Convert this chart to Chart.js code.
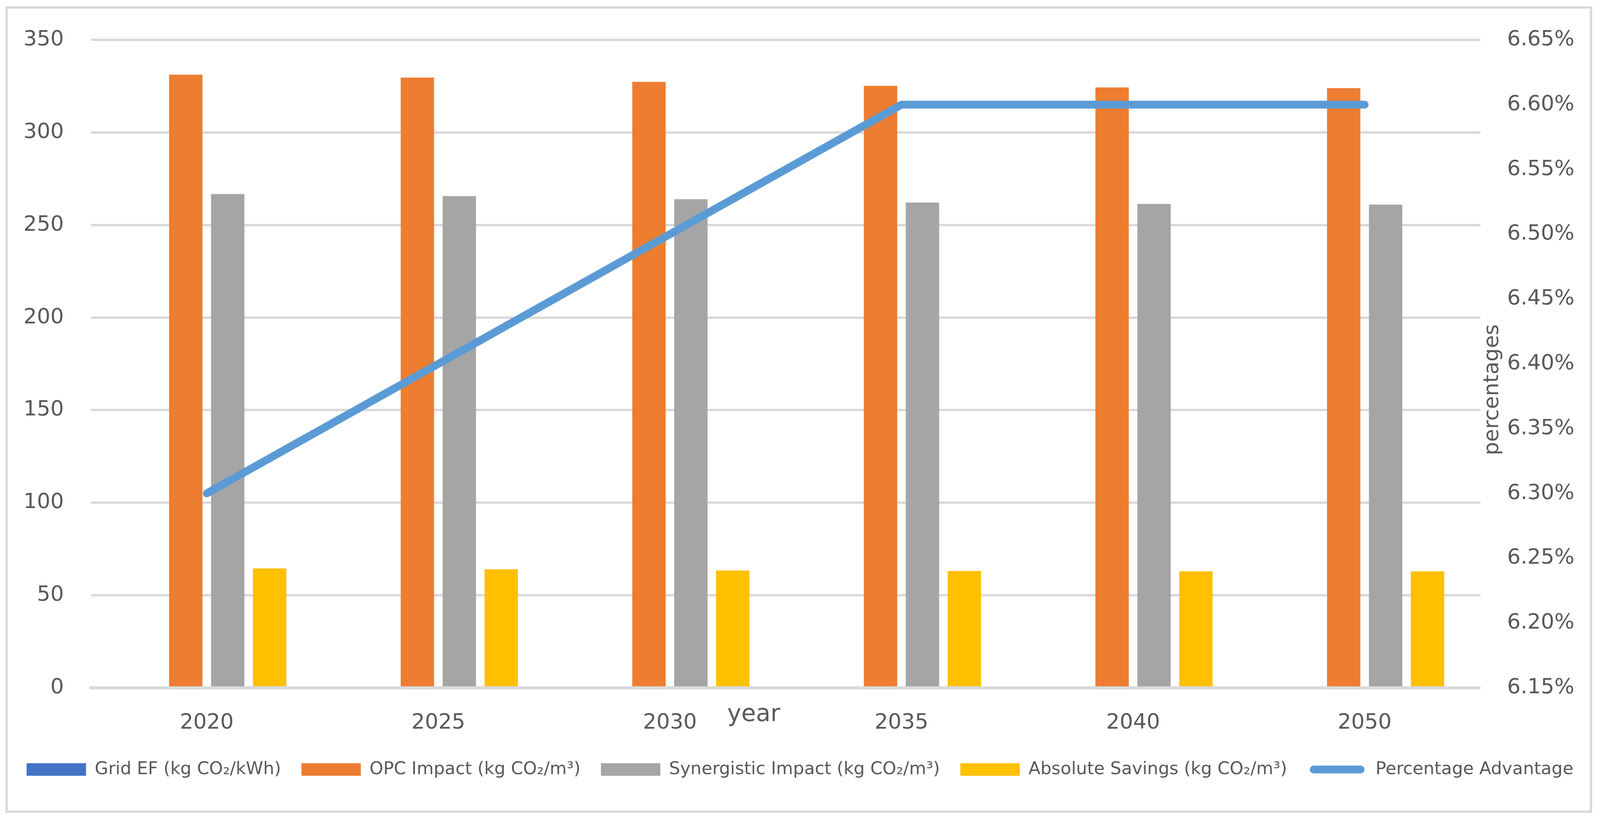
<!DOCTYPE html>
<html>
<head>
<meta charset="utf-8">
<script src="https://cdn.jsdelivr.net/npm/chart.js@4.4.1/dist/chart.umd.min.js"></script>
<style>
    html, body { margin: 0; padding: 0; background: #ffffff; overflow: hidden; }
    #wrap { position: relative; }
    #chart { display: block; }
    #frame { position: absolute; border: 6px solid #d9d9d9; pointer-events: none; }
</style>
</head>
<body>
<div id="wrap">
    <canvas id="chart"></canvas>
    <div id="frame"></div>
</div>
<script>
// Values
const years = ['2020', '2025', '2030', '2035', '2040', '2050'];
const gridEF = [0.58, 0.52, 0.45, 0.38, 0.32, 0.25];
const opcImpact = [331.2, 329.6, 327.3, 325.2, 324.3, 323.9];
const synergisticImpact = [266.7, 265.6, 263.9, 262.1, 261.4, 261.0];
const absoluteSavings = [64.5, 64.0, 63.4, 63.1, 62.9, 62.9];
const percentageAdvantage = [6.30, 6.40, 6.50, 6.60, 6.60, 6.60];

const textColor = '#595959';
const gridColor = '#d9d9d9';
const fontFamily = '"DejaVu Sans", sans-serif';

// The layout was measured on a 4309x2111 picture; scale it to the real window
const W = window.innerWidth;
const H = window.innerHeight;
const sx = W / 4309;
const sy = H / 2111;
const X = v => v * sx;
const Y = v => v * sy;

const canvas = document.getElementById('chart');
canvas.width = W;
canvas.height = H;
const wrap = document.getElementById('wrap');
wrap.style.width = W + 'px';
wrap.style.height = H + 'px';
const frame = document.getElementById('frame');
frame.style.left = X(15) + 'px';
frame.style.top = Y(16) + 'px';
frame.style.width = X(4260) + 'px';
frame.style.height = Y(2052) + 'px';

const tickFont = 57 * sx;
const legendFont = 47 * sx;
const legendPad = X(55);
const legendBoxH = Y(32);
const legendItemH = Math.max(legendFont, legendBoxH);
const legendH = legendItemH + legendPad + 10;
const legendTop = Y(1969) - legendPad - legendItemH / 2;
const plotBottom = Y(1760);

// Axis titles sit inside the plot edges in the original, so draw them by hand
const axisTitles = {
    id: 'axisTitles',
    afterDraw(chart) {
        const { ctx, chartArea } = chart;
        ctx.save();
        ctx.fillStyle = textColor;
        ctx.textAlign = 'center';
        ctx.textBaseline = 'alphabetic';
        ctx.font = (64 * sx) + 'px ' + fontFamily;
        ctx.fillText('year', chartArea.left + chartArea.width * 0.477, chartArea.bottom + Y(85));
        ctx.translate(chartArea.right + X(47), chartArea.top + chartArea.height * 0.54);
        ctx.rotate(-Math.PI / 2);
        ctx.font = (54 * sy) + 'px ' + fontFamily;
        ctx.fillText('percentages', 0, 0);
        ctx.restore();
    }
};

function barSet(label, data, color) {
    return {
        type: 'bar',
        label: label,
        data: data,
        backgroundColor: color,
        borderWidth: 0,
        yAxisID: 'y',
        order: 1,
        barPercentage: 0.796,
        categoryPercentage: 0.724
    };
}

const chart = new Chart(canvas.getContext('2d'), {
    data: {
        labels: years,
        datasets: [
            barSet('Grid EF (kg CO\u2082/kWh)', gridEF, '#4472c4'),
            barSet('OPC Impact (kg CO\u2082/m\u00b3)', opcImpact, '#ed7d31'),
            barSet('Synergistic Impact (kg CO\u2082/m\u00b3)', synergisticImpact, '#a5a5a5'),
            barSet('Absolute Savings (kg CO\u2082/m\u00b3)', absoluteSavings, '#ffc000'),
            {
                type: 'line',
                label: 'Percentage Advantage',
                data: percentageAdvantage,
                borderColor: '#5b9bd5',
                backgroundColor: '#5b9bd5',
                borderWidth: Y(20),
                borderCapStyle: 'round',
                borderJoinStyle: 'round',
                pointRadius: 0,
                pointHoverRadius: 0,
                tension: 0,
                fill: false,
                yAxisID: 'yPct',
                order: 0
            }
        ]
    },
    options: {
        responsive: false,
        devicePixelRatio: 1,
        animation: false,
        layout: { padding: { top: Y(91), bottom: H - legendTop - legendH, left: 0, right: 0 } },
        plugins: {
            tooltip: { enabled: false },
            legend: {
                position: 'bottom',
                labels: {
                    color: textColor,
                    font: { family: fontFamily, size: legendFont },
                    boxWidth: X(160),
                    boxHeight: legendBoxH,
                    padding: legendPad,
                    useBorderRadius: true,
                    sort: (a, b) => a.datasetIndex - b.datasetIndex,
                    generateLabels(chart) {
                        const items = Chart.defaults.plugins.legend.labels.generateLabels(chart);
                        items.forEach(item => {
                            const ds = chart.data.datasets[item.datasetIndex];
                            if (ds.type === 'line') {
                                // thick rounded line key
                                item.fillStyle = ds.borderColor;
                                item.strokeStyle = '#ffffff';
                                item.lineWidth = Y(12);
                                item.borderRadius = Y(16);
                                item.lineDash = [];
                            } else {
                                item.lineWidth = 0;
                                item.borderRadius = 0;
                            }
                        });
                        return items;
                    }
                }
            }
        },
        scales: {
            x: {
                grid: { display: false, drawTicks: false },
                border: { display: true, color: gridColor, width: Y(8), z: 1 },
                ticks: {
                    color: textColor,
                    font: { family: fontFamily, size: tickFont },
                    padding: Y(1850) - plotBottom - 0.6 * tickFont,
                    maxRotation: 0
                },
                afterFit(scale) { scale.height = legendTop - plotBottom; }
            },
            y: {
                position: 'left',
                min: 0,
                max: 350,
                ticks: { stepSize: 50, color: textColor, font: { family: fontFamily, size: tickFont }, padding: X(73) },
                grid: { color: gridColor, lineWidth: Y(6), drawTicks: false },
                border: { display: false },
                afterFit(scale) { scale.width = X(245); }
            },
            yPct: {
                position: 'right',
                min: 6.15,
                max: 6.65,
                ticks: {
                    stepSize: 0.05,
                    color: textColor,
                    font: { family: fontFamily, size: tickFont },
                    padding: X(72),
                    callback: v => v.toFixed(2) + '%'
                },
                grid: { display: false, drawTicks: false },
                border: { display: false },
                afterFit(scale) { scale.width = X(322); }
            }
        }
    },
    plugins: [axisTitles]
});
</script>
</body>
</html>
